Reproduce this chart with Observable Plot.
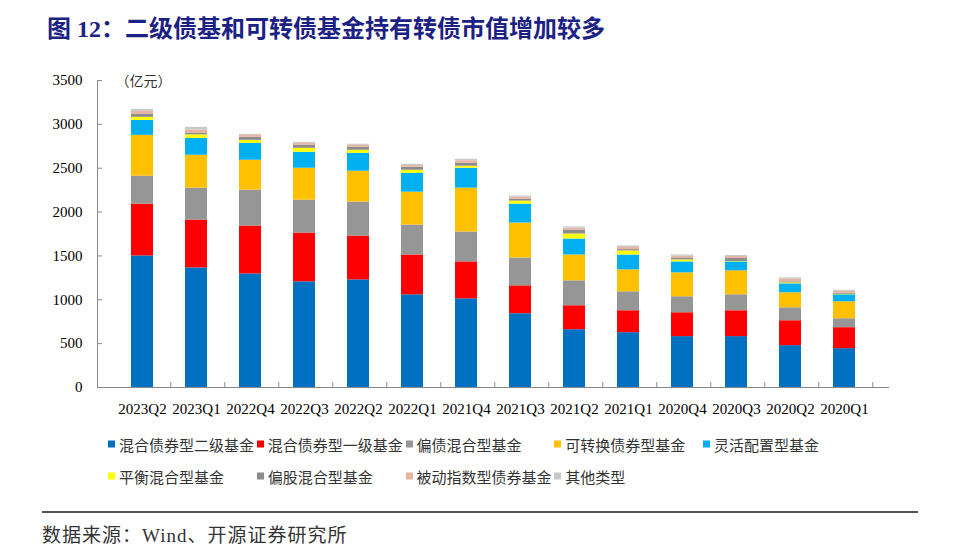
<!DOCTYPE html>
<html>
<head>
<meta charset="utf-8">
<script src="https://cdn.jsdelivr.net/npm/d3@7"></script>
<script src="https://cdn.jsdelivr.net/npm/@observablehq/plot@0.6"></script>
<style>
  body { margin: 0; background: #fff; }
  #wrap { position: relative; width: 960px; height: 554px; overflow: hidden; background: #fff; }
  #title { position: absolute; left: 47px; top: 9px; font-family: "Liberation Serif", "Noto Sans CJK SC", serif; font-weight: bold; font-size: 24px; color: #1c2184; white-space: nowrap; }
  #chart { position: absolute; left: 0; top: 50px; }
  .item { position: absolute; display: flex; align-items: center; font-family: "Noto Sans CJK SC", sans-serif; font-size: 15px; color: #333; white-space: nowrap; transform: translateY(-50%); }
  .sw { width: 7px; height: 7px; margin-right: 4px; flex: none; }
  #rule { position: absolute; left: 42px; top: 511px; width: 876px; height: 1.5px; background: #555; }
  #source { position: absolute; left: 42px; top: 520px; font-family: "Liberation Serif", "Noto Sans CJK SC", serif; font-size: 19px; letter-spacing: 1px; color: #333; white-space: nowrap; }
</style>
</head>
<body>
<div id="wrap">
  <div id="title">图 12：二级债基和可转债基金持有转债市值增加较多</div>
  <div id="chart"></div>
  <div id="legend"></div>
  <div id="rule"></div>
  <div id="source">数据来源：Wind、开源证券研究所</div>
</div>
<script>
const quarters = ["2023Q2","2023Q1","2022Q4","2022Q3","2022Q2","2022Q1","2021Q4","2021Q3","2021Q2","2021Q1","2020Q4","2020Q3","2020Q2","2020Q1"];
const seriesNames = ["混合债券型二级基金","混合债券型一级基金","偏债混合型基金","可转换债券型基金","灵活配置型基金","平衡混合型基金","偏股混合型基金","被动指数型债券基金","其他类型"];
const seriesColors = ["#0070C0","#FF0000","#969696","#FFC000","#00B0F0","#FFFF00","#8C8C8C","#E6B4A0","#C8C8C8"];
const erji     = [1500, 1364, 1295, 1205, 1227, 1057, 1011, 841, 659, 625, 580, 580, 477, 443];
const yiji     = [591, 545, 546, 556, 500, 454, 421, 318, 273, 250, 272, 295, 284, 239];
const pianzhai = [318, 364, 409, 375, 387, 341, 341, 318, 284, 216, 182, 182, 148, 102];
const kezhuan  = [466, 375, 341, 364, 352, 375, 500, 398, 295, 250, 273, 273, 171, 193];
const linghuo  = [170, 193, 193, 182, 204, 216, 227, 216, 182, 170, 125, 102, 102, 80];
const pingheng = [35, 40, 34, 45, 35, 34, 23, 34, 57, 46, 23, 5, 11, 6];
const piangu   = [34, 20, 34, 34, 34, 34, 34, 23, 45, 15, 22, 34, 12, 11];
const beidong  = [34, 35, 22, 22, 22, 22, 28, 22, 22, 25, 22, 22, 28, 22];
const qita     = [22, 30, 12, 12, 12, 12, 17, 12, 13, 17, 12, 12, 17, 12];
const yTicks = [0, 500, 1000, 1500, 2000, 2500, 3000, 3500];
const unitLabel = "（亿元）";

const seriesValues = [erji, yiji, pianzhai, kezhuan, linghuo, pingheng, piangu, beidong, qita];
const rows = seriesNames.flatMap((s, si) => quarters.map((q, qi) => ({quarter: q, series: s, value: seriesValues[si][qi]})));

const W = 960, H = 380, mL = 97, mR = 71, mT = 30, mB = 43;
const step = (W - mL - mR) / quarters.length;
const axisColor = "#8a8a8a";

const chart = Plot.plot({
  width: W, height: H,
  marginLeft: mL, marginRight: mR, marginTop: mT, marginBottom: mB,
  style: {fontFamily: '"Liberation Serif", serif', fontSize: "15px", color: "#000", background: "#fff"},
  x: {domain: quarters, padding: 0.6, label: null},
  y: {domain: [0, 3500], label: null},
  color: {domain: seriesNames, range: seriesColors},
  marks: [
    Plot.barY(rows, {x: "quarter", y: "value", fill: "series"}),
    Plot.ruleY([0], {stroke: axisColor}),
    Plot.frame({anchor: "left", stroke: axisColor}),
    Plot.axisY(yTicks, {tickSize: 5, dx: 5, stroke: axisColor, tickFormat: () => "", label: null}),
    Plot.axisY(yTicks, {tickSize: 0, tickPadding: 15, tickFormat: d => String(d), fill: "#000", label: null}),
    Plot.axisX({tickSize: 5, dy: -5, dx: step / 2, stroke: axisColor, tickFormat: () => "", label: null}),
    Plot.axisX({tickSize: 0, tickPadding: 16, fill: "#000", label: null}),
    Plot.text([unitLabel], {text: d => d, frameAnchor: "top-left", dx: 18, dy: -4, textAnchor: "start", fontFamily: "Noto Sans CJK SC", fontSize: 14, fill: "#333"})
  ]
});
document.getElementById("chart").appendChild(chart);

const legend = document.getElementById("legend");
const colX0 = 108, colStep = 148.75, rowY = [444, 476];
seriesNames.forEach((name, i) => {
  const el = document.createElement("div");
  el.className = "item";
  el.style.left = (colX0 + (i % 5) * colStep) + "px";
  el.style.top = rowY[Math.floor(i / 5)] + "px";
  const sw = document.createElement("span");
  sw.className = "sw";
  sw.style.background = seriesColors[i];
  const tx = document.createElement("span");
  tx.textContent = name;
  el.appendChild(sw);
  el.appendChild(tx);
  legend.appendChild(el);
});
</script>
</body>
</html>
